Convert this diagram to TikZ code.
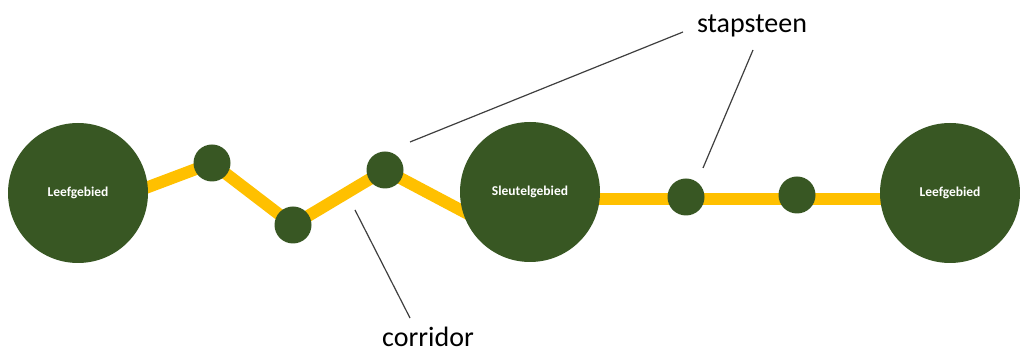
\documentclass[tikz,border=0pt]{standalone}
\usepackage{fontspec}
\setmainfont{Carlito}
\definecolor{areagreen}{HTML}{385723}
\definecolor{corryellow}{HTML}{FFC000}
\definecolor{leadgray}{HTML}{3F3F3F}
\begin{document}
\begin{tikzpicture}[x=1pt,y=1pt,
  bigarea/.style={circle,fill=areagreen,minimum size=140pt,inner sep=0pt,text=white,font=\fontsize{13.5}{15}\selectfont\bfseries},
  stone/.style={circle,fill=areagreen,minimum size=37pt,inner sep=0pt},
  corr/.style={corryellow,line width=12pt},
  leader/.style={leadgray,line width=1.2pt},
  lbl/.style={font=\fontsize{28}{32}\selectfont,anchor=base,inner sep=0pt}]
\useasboundingbox (0,0) rectangle (1020,353);
% positions
\coordinate (a0) at (135,161);
\coordinate (sEnd) at (470,138);
\coordinate (h0) at (560,154);
\coordinate (h1) at (920,154);
% corridor lines (behind circles)
\draw[corr] (a0) -- (212,190) -- (293,128) -- (385,183) -- (sEnd);
\draw[corr] (h0) -- (h1);
% circles
\node[bigarea] (L1) at (78,160) {Leefgebied};
\node[bigarea] (S) at (530,161) {Sleutelgebied};
\node[bigarea] (L2) at (950,160) {Leefgebied};
\node[stone] (s1) at (212,190) {};
\node[stone] (s2) at (293,128) {};
\node[stone] (s3) at (385,183) {};
\node[stone] (s4) at (686,156) {};
\node[stone] (s5) at (797,158) {};
% labels
\node[lbl] (stap) at (752,320) {stapsteen};
\node[lbl] (corridor) at (428,6) {corridor};
% leader lines
\coordinate (p1a) at (683,321);
\coordinate (p1b) at (410,211);
\coordinate (p2a) at (753,303);
\coordinate (p2b) at (703,185);
\coordinate (p3a) at (410,35);
\coordinate (p3b) at (355,143);
\draw[leader] (p1a) -- (p1b);
\draw[leader] (p2a) -- (p2b);
\draw[leader] (p3a) -- (p3b);
\end{tikzpicture}
\end{document}
